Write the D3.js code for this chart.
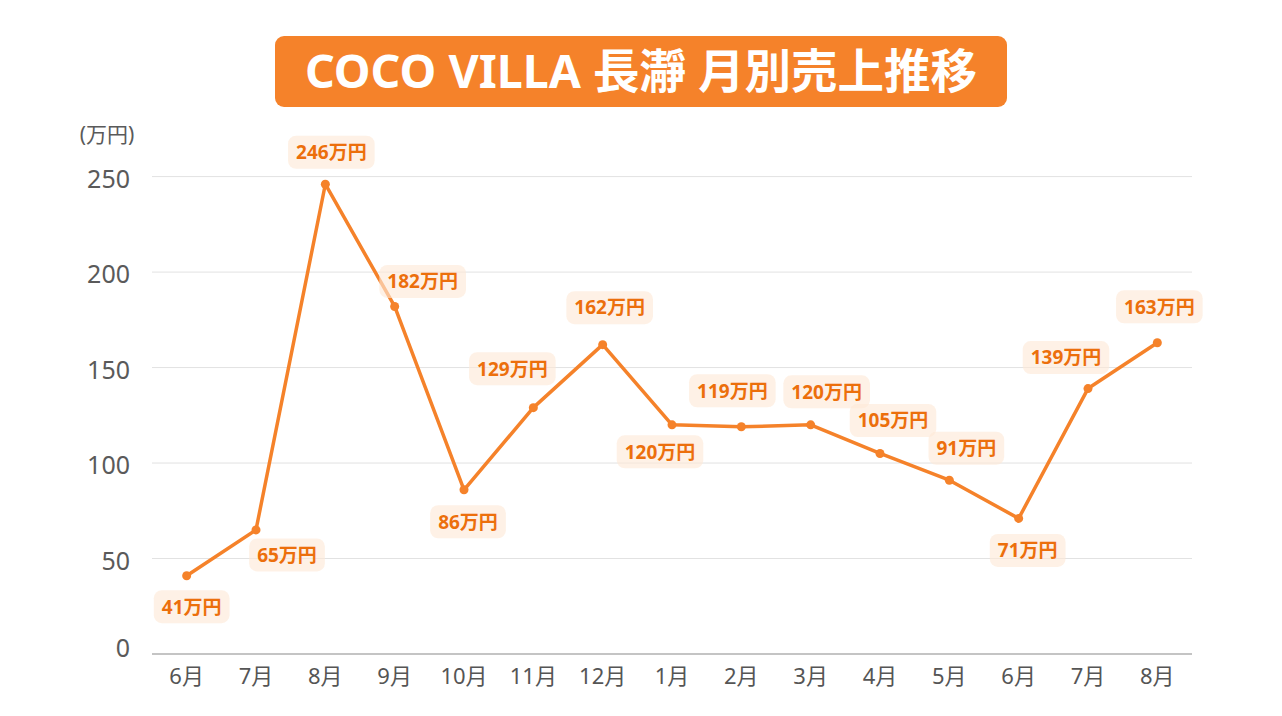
<!DOCTYPE html>
<html lang="ja">
<head>
<meta charset="utf-8">
<title>COCO VILLA 長瀞 月別売上推移</title>
<script src="https://d3js.org/d3.v7.min.js"></script>
<style>
  body { margin: 0; background: #fff; }
  svg { display: block; font-family: "Noto Sans", "Noto Sans CJK JP", sans-serif; }
</style>
</head>
<body>
<script>
// data
var months = ["6月", "7月", "8月", "9月", "10月", "11月", "12月", "1月", "2月", "3月", "4月", "5月", "6月", "7月", "8月"];
var sales = [41, 65, 246, 182, 86, 129, 162, 120, 119, 120, 105, 91, 71, 139, 163];
var yTicks = [0, 50, 100, 150, 200, 250];

// label placement (offset of the label box centre from its point, px)
var labelDx = [5, 31, 6, 28, 4, -21, 7, -12, -9, 16, 13, 17, 9, -22, 2];
var labelDy = [31, 25, -32, -25, 32, -39, -37, 27, -36, -33, -33, -32, 32, -31, -36];

var w = 1282, h = 716;
var orange = "#f5822a";

var svg = d3.select("body").append("svg")
    .attr("width", w)
    .attr("height", h);

// title
var titleG = svg.append("g");
titleG.append("rect")
    .attr("x", 275).attr("y", 36)
    .attr("width", 732).attr("height", 71)
    .attr("rx", 9)
    .attr("fill", orange);
titleG.append("text")
    .attr("x", 641).attr("y", 71)
    .attr("dy", "0.36em")
    .attr("text-anchor", "middle")
    .attr("font-size", "46.5px")
    .attr("font-weight", "bold")
    .attr("fill", "#fff")
    .text("COCO VILLA 長瀞 月別売上推移");

// scales
var xScale = d3.scaleBand()
    .domain(d3.range(months.length))
    .range([152, 1192]);

var yScale = d3.scaleLinear()
    .domain([0, 250])
    .range([654, 176.6]);

function px(i) { return xScale(i) + xScale.bandwidth() / 2; }

// grid
svg.append("g")
    .selectAll("line")
    .data(yTicks)
    .enter()
    .append("line")
    .attr("x1", 152).attr("x2", 1192)
    .attr("y1", function(d) { return yScale(d); })
    .attr("y2", function(d) { return yScale(d); })
    .attr("stroke", function(d) { return d === 0 ? "#c4c4c4" : "#e2e2e2"; })
    .attr("stroke-width", function(d) { return d === 0 ? 2 : 1; });

// y tick labels
svg.append("g")
    .selectAll("text")
    .data(yTicks)
    .enter()
    .append("text")
    .attr("x", 130)
    .attr("y", function(d) { return yScale(d) + (d === 0 ? -6 : 2); })
    .attr("dy", "0.36em")
    .attr("text-anchor", "end")
    .attr("font-size", "25px")
    .attr("fill", "#5a5a5a")
    .text(function(d) { return d; });

svg.append("text")
    .attr("x", 107).attr("y", 134)
    .attr("dy", "0.36em")
    .attr("text-anchor", "middle")
    .attr("font-size", "21px")
    .attr("fill", "#5a5a5a")
    .text("(万円)");

// x labels
svg.append("g")
    .selectAll("text")
    .data(months)
    .enter()
    .append("text")
    .attr("x", function(d, i) { return px(i); })
    .attr("y", 676)
    .attr("dy", "0.36em")
    .attr("text-anchor", "middle")
    .attr("font-size", "22px")
    .attr("fill", "#555")
    .text(function(d) { return d; });

// line
var line = d3.line()
    .x(function(d, i) { return px(i); })
    .y(function(d) { return yScale(d); });

svg.append("path")
    .datum(sales)
    .attr("d", line)
    .attr("fill", "none")
    .attr("stroke", orange)
    .attr("stroke-width", 3.5)
    .attr("stroke-linejoin", "round");

svg.append("g")
    .selectAll("circle")
    .data(sales)
    .enter()
    .append("circle")
    .attr("cx", function(d, i) { return px(i); })
    .attr("cy", function(d) { return yScale(d); })
    .attr("r", 4.5)
    .attr("fill", orange);

// value labels
var labels = svg.append("g")
    .selectAll("g")
    .data(sales)
    .enter()
    .append("g")
    .attr("transform", function(d, i) {
        return "translate(" + (px(i) + labelDx[i]) + "," + (yScale(d) + labelDy[i]) + ")";
    });

labels.append("rect")
    .attr("fill", "#fde8d6")
    .attr("fill-opacity", 0.62)
    .attr("rx", 8);

labels.append("text")
    .attr("dy", "0.36em")
    .attr("text-anchor", "middle")
    .attr("font-size", "19px")
    .attr("font-weight", "bold")
    .attr("fill", "#ec6f0c")
    .text(function(d) { return d + "万円"; });

labels.each(function() {
    var g = d3.select(this);
    var bb = g.select("text").node().getBBox();
    g.select("rect")
        .attr("x", -bb.width / 2 - 8)
        .attr("y", -16.5)
        .attr("width", bb.width + 16)
        .attr("height", 33);
});
</script>
</body>
</html>
